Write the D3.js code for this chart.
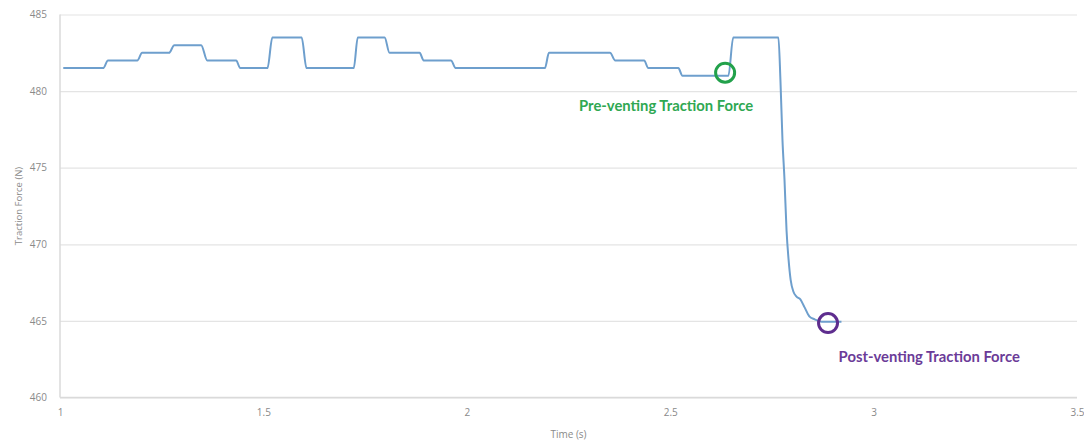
<!DOCTYPE html>
<html>
<head>
<meta charset="utf-8">
<script src="https://cdn.jsdelivr.net/npm/d3@7"></script>
<style>
  html, body { margin: 0; padding: 0; background: #fff; }
  svg { display: block; }
  .tick text { fill: #8a8a8a; font-family: "Open Sans", sans-serif; font-size: 10px; }
</style>
</head>
<body>
<svg id="chart"></svg>
<script>
// Traction force trace (time in s, force in N)
const times = [
  1.008, 1.106, 1.118, 1.190, 1.202, 1.268, 1.281, 1.347, 1.362, 1.433,
  1.443, 1.510, 1.522, 1.594, 1.606, 1.722, 1.732, 1.798, 1.810, 1.884,
  1.894, 1.961, 1.973, 2.192, 2.202, 2.352, 2.365, 2.436, 2.446, 2.520,
  2.530, 2.643, 2.655, 2.766, 2.771, 2.776, 2.781, 2.786, 2.791, 2.796,
  2.803, 2.810, 2.820, 2.830, 2.842, 2.855, 2.872, 2.921
];
const force = [
  481.5, 481.5, 482.0, 482.0, 482.5, 482.5, 483.0, 483.0, 482.0, 482.0,
  481.5, 481.5, 483.5, 483.5, 481.5, 481.5, 483.5, 483.5, 482.5, 482.5,
  482.0, 482.0, 481.5, 481.5, 482.5, 482.5, 482.0, 482.0, 481.5, 481.5,
  481.0, 481.0, 483.5, 483.5, 480.7, 476.8, 474.2, 470.9, 469.0, 467.7,
  466.9, 466.6, 466.4, 465.9, 465.3, 465.1, 464.95, 464.95
];

const xTicks = [1, 1.5, 2, 2.5, 3, 3.5];
const yTicks = [460, 465, 470, 475, 480, 485];

// Marked points and their labels
const markLabels = ['Pre-venting Traction Force', 'Post-venting Traction Force'];
const markTime = [2.635, 2.888];
const markForce = [481.2, 464.86];
const markColors = ['#22a14b', '#5e2d8e'];
const labelColors = ['#2fa852', '#6b3b98'];
const labelTime = [2.276, 2.914];
const labelForce = [478.7, 462.32];

const width = 1084, height = 442;
const svg = d3.select('#chart')
  .attr('width', width)
  .attr('height', height)
  .attr('viewBox', `0 0 ${width} ${height}`);

const x = d3.scaleLinear().domain([1, 3.5]).range([60, 1077]);
const y = d3.scaleLinear().domain([460, 485]).range([397.5, 14.5]);

// Grid
svg.append('g')
  .attr('transform', 'translate(60,0)')
  .call(d3.axisLeft(y).tickValues(yTicks).tickSize(-(1077 - 60)).tickFormat(''))
  .call(g => g.select('.domain').remove())
  .call(g => g.selectAll('.tick line').attr('stroke', '#e4e4e4').attr('stroke-width', 1.2));

// Axis lines
svg.append('line')
  .attr('x1', 60).attr('x2', 60)
  .attr('y1', y(485)).attr('y2', y(460))
  .attr('stroke', '#dadada').attr('stroke-width', 1.5);
svg.append('line')
  .attr('x1', 60).attr('x2', 1077)
  .attr('y1', y(460)).attr('y2', y(460))
  .attr('stroke', '#dadada').attr('stroke-width', 1.5);

// Y tick labels
svg.append('g')
  .attr('transform', 'translate(60,0)')
  .call(d3.axisLeft(y).tickValues(yTicks).tickSize(0).tickPadding(13).tickFormat(d3.format('d')))
  .call(g => g.select('.domain').remove());

// X tick labels
svg.append('g')
  .attr('transform', `translate(0,${y(460)})`)
  .call(d3.axisBottom(x).tickValues(xTicks).tickSize(0).tickPadding(11).tickFormat(d => String(d)))
  .call(g => g.select('.domain').remove());

// Axis titles
svg.append('text')
  .attr('transform', `translate(22,${(y(485) + y(460)) / 2}) rotate(-90)`)
  .attr('text-anchor', 'middle')
  .attr('font-family', '"Open Sans", sans-serif')
  .attr('font-size', '9.5px')
  .attr('fill', '#8a8a8a')
  .text('Traction Force (N)');

svg.append('text')
  .attr('x', (60 + 1077) / 2)
  .attr('y', 438)
  .attr('text-anchor', 'middle')
  .attr('font-family', '"Open Sans", sans-serif')
  .attr('font-size', '10px')
  .attr('fill', '#8a8a8a')
  .text('Time (s)');

// Trace
const points = times.map((t, i) => [t, force[i]]);
const line = d3.line()
  .x(d => x(d[0]))
  .y(d => y(d[1]))
  .curve(d3.curveMonotoneX);

svg.append('path')
  .datum(points)
  .attr('fill', 'none')
  .attr('stroke', '#6e9fcd')
  .attr('stroke-width', 2)
  .attr('stroke-linejoin', 'round')
  .attr('d', line);

// Annotations
markLabels.forEach((label, i) => {
  svg.append('circle')
    .attr('cx', x(markTime[i]))
    .attr('cy', y(markForce[i]))
    .attr('r', 9.5)
    .attr('fill', 'none')
    .attr('stroke', markColors[i])
    .attr('stroke-width', 3);

  svg.append('text')
    .attr('x', x(labelTime[i]))
    .attr('y', y(labelForce[i]))
    .attr('font-family', 'Lato, sans-serif')
    .attr('font-weight', 'bold')
    .attr('font-size', '14.8px')
    .attr('fill', labelColors[i])
    .text(label);
});
</script>
</body>
</html>
